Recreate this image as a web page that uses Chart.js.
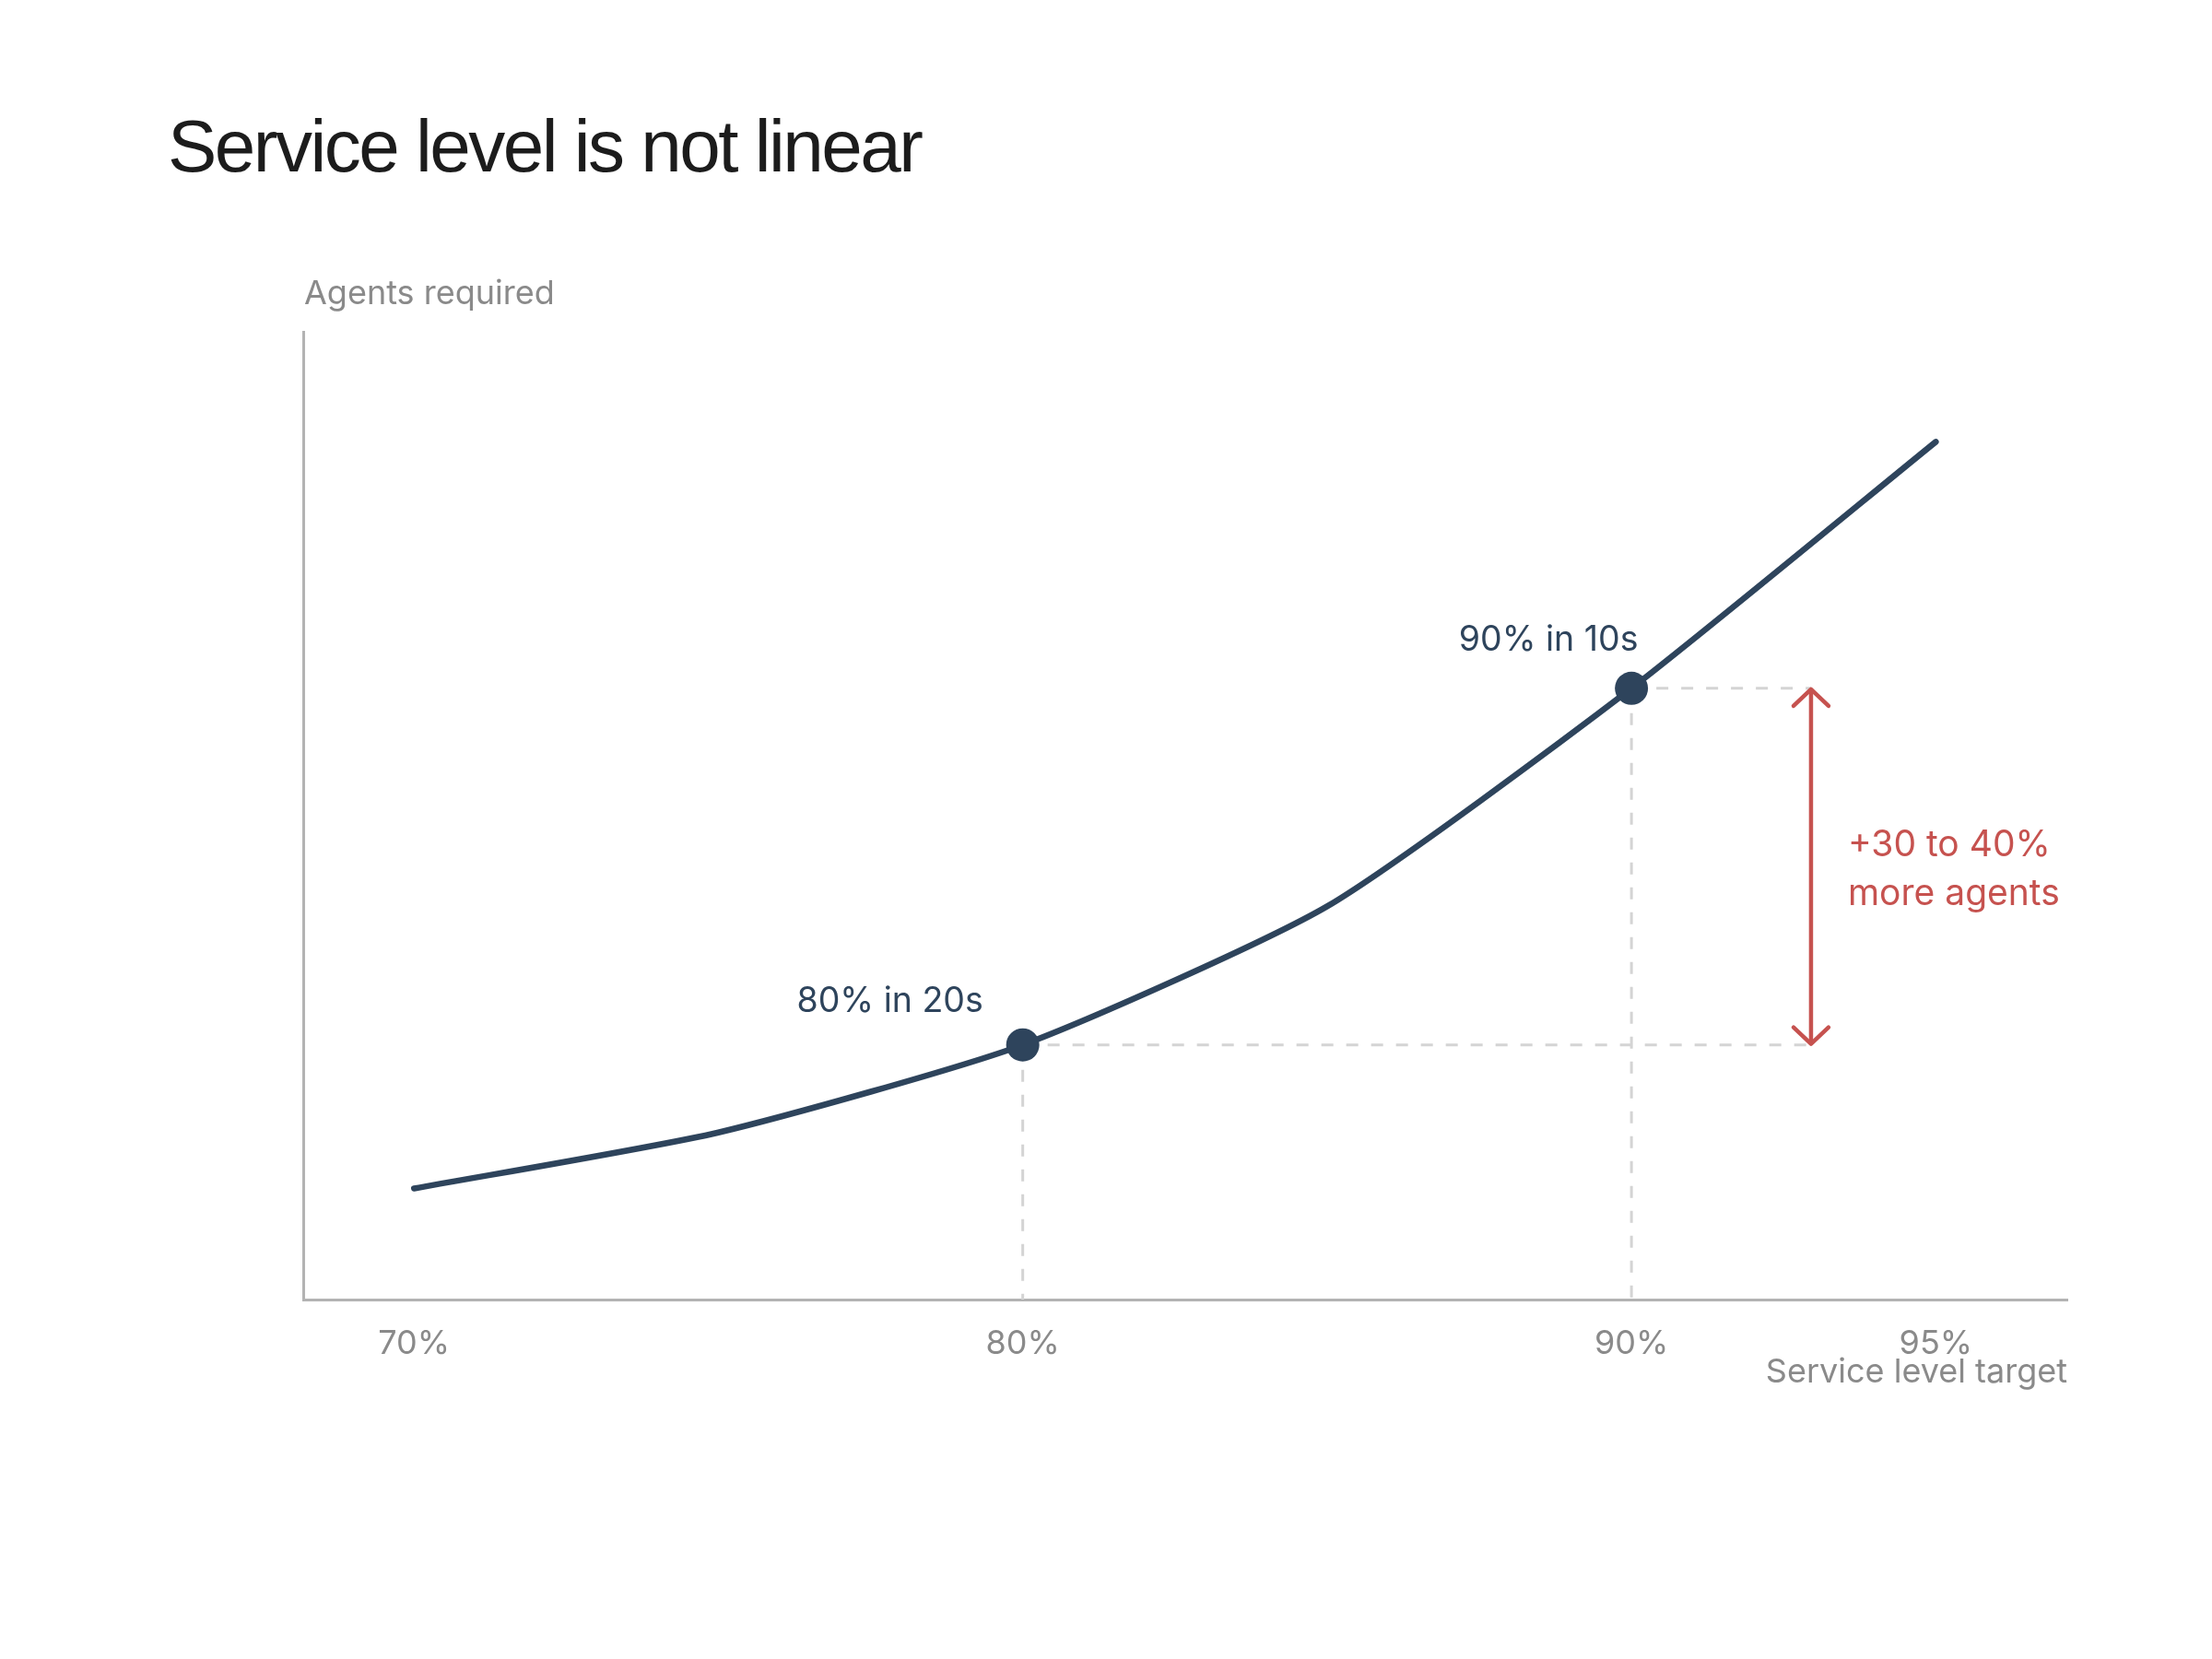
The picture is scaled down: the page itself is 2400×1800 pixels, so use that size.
<!DOCTYPE html>
<html><head><meta charset="utf-8">
<script src="https://cdn.jsdelivr.net/npm/chart.js@4.4.1/dist/chart.umd.min.js"></script>
<style>html,body{margin:0;padding:0;background:#fff;}canvas{display:block;}</style>
</head><body>
<canvas id="c" width="2400" height="1800" style="width:2400px;height:1800px"></canvas>
<script>
// ---- data ----
const serviceLevels = [70, 75, 80, 85, 90, 95];
const agentsRequired = [85.9, 91.4, 100, 113.6, 135, 159.2];
const xTickValues = [70, 80, 90, 95];
const highlightLevels = [80, 90];
const highlightLabels = ['80% in 20s', '90% in 10s'];
const deltaLines = ['+30 to 40%', 'more agents'];
const chartTitle = 'Service level is not linear';
const yAxisTitle = 'Agents required';
const xAxisTitle = 'Service level target';

// ---- style ----
const NAVY = '#2e445c', RED = '#c6524f', GRAY_TXT = '#8a8a8a', AXIS = '#b3b3b3', DASH = '#d4d4d4', INK = '#1c1c1c';
const FONT = 'Inter, "Noto Sans", sans-serif';
const TITLE_FONT = '"Liberation Sans", Arial, sans-serif';
const ARROW_LEVEL = 92.95;
const LABEL_OFFSETS = [[-144, -36], [-90, -41]];

const valueAt = lvl => agentsRequired[serviceLevels.indexOf(lvl)];

const annot = {
  id: 'annot',
  beforeDatasetsDraw(chart) {
    const {ctx, chartArea, scales: {x, y}} = chart;
    const ax = x.getPixelForValue(ARROW_LEVEL);
    ctx.save();
    ctx.strokeStyle = DASH; ctx.lineWidth = 3; ctx.setLineDash([13, 14]);
    highlightLevels.forEach(lvl => {
      const px = x.getPixelForValue(lvl), py = y.getPixelForValue(valueAt(lvl));
      ctx.beginPath(); ctx.moveTo(px, py); ctx.lineTo(px, chartArea.bottom); ctx.stroke();
      ctx.beginPath(); ctx.moveTo(px, py); ctx.lineTo(ax, py); ctx.stroke();
    });
    ctx.restore();
  },
  afterDatasetsDraw(chart) {
    const {ctx, scales: {x, y}} = chart;
    const ax = x.getPixelForValue(ARROW_LEVEL);
    const yTop = y.getPixelForValue(valueAt(highlightLevels[1]));
    const yBot = y.getPixelForValue(valueAt(highlightLevels[0]));
    ctx.save();
    // arrow
    ctx.strokeStyle = RED; ctx.lineWidth = 4.5; ctx.lineCap = 'round'; ctx.lineJoin = 'round';
    ctx.beginPath(); ctx.moveTo(ax, yTop + 2); ctx.lineTo(ax, yBot - 2); ctx.stroke();
    ctx.beginPath(); ctx.moveTo(ax - 19, yTop + 19); ctx.lineTo(ax, yTop + 1); ctx.lineTo(ax + 19, yTop + 19); ctx.stroke();
    ctx.beginPath(); ctx.moveTo(ax - 19, yBot - 19); ctx.lineTo(ax, yBot - 1); ctx.lineTo(ax + 19, yBot - 19); ctx.stroke();
    // delta text
    const mid = (yTop + yBot) / 2;
    ctx.fillStyle = RED; ctx.font = '39px ' + FONT; ctx.textAlign = 'left'; ctx.textBaseline = 'alphabetic';
    ctx.fillText(deltaLines[0], ax + 40, mid - 11);
    ctx.fillText(deltaLines[1], ax + 40, mid + 42);
    // point labels
    ctx.fillStyle = NAVY; ctx.textAlign = 'center'; ctx.font = '37.5px ' + FONT;
    highlightLevels.forEach((lvl, i) => {
      const px = x.getPixelForValue(lvl), py = y.getPixelForValue(valueAt(lvl));
      ctx.fillText(highlightLabels[i], px + LABEL_OFFSETS[i][0], py + LABEL_OFFSETS[i][1]);
    });
    ctx.restore();
  },
  afterDraw(chart) {
    const {ctx, chartArea} = chart;
    ctx.save();
    ctx.textBaseline = 'alphabetic';
    ctx.fillStyle = INK; ctx.font = '80px ' + TITLE_FONT; ctx.textAlign = 'left';
    ctx.letterSpacing = '-2.5px';
    ctx.fillText(chartTitle, 182, 186);
    ctx.letterSpacing = '0px';
    ctx.fillStyle = GRAY_TXT; ctx.font = '36px ' + FONT;
    ctx.fillText(yAxisTitle, chartArea.left + 1, chartArea.top - 30);
    ctx.textAlign = 'right';
    ctx.fillText(xAxisTitle, chartArea.right, chartArea.bottom + 90);
    ctx.restore();
  }
};

new Chart(document.getElementById('c'), {
  type: 'line',
  data: {
    datasets: [{
      data: serviceLevels.map((s, i) => ({x: s, y: agentsRequired[i]})),
      borderColor: NAVY,
      borderWidth: 6.5,
      borderCapStyle: 'round',
      borderJoinStyle: 'round',
      tension: 0.2,
      fill: false,
      pointRadius: c => highlightLevels.includes(serviceLevels[c.dataIndex]) ? 18 : 0,
      pointBackgroundColor: NAVY,
      pointBorderWidth: 0,
      clip: false
    }]
  },
  options: {
    responsive: false,
    devicePixelRatio: 1,
    animation: false,
    events: [],
    layout: {padding: {left: 329, top: 360, right: 157, bottom: 290}},
    plugins: {legend: {display: false}, tooltip: {enabled: false}, title: {display: false}},
    scales: {
      x: {
        type: 'linear', min: 68.18, max: 97.16,
        grid: {display: false, drawTicks: false},
        border: {display: true, color: AXIS, width: 3},
        afterBuildTicks: s => { s.ticks = xTickValues.map(v => ({value: v})); },
        afterFit: s => { s.height = 100; },
        ticks: {
          autoSkip: false, maxRotation: 0, padding: 27,
          color: GRAY_TXT, font: {family: FONT, size: 36},
          callback: v => v + '%'
        }
      },
      y: {
        type: 'linear', min: 75, max: 170,
        grid: {display: false, drawTicks: false},
        border: {display: true, color: AXIS, width: 3},
        ticks: {display: false},
        afterFit: s => { s.width = 0; }
      }
    }
  },
  plugins: [annot]
});
</script>
</body></html>
